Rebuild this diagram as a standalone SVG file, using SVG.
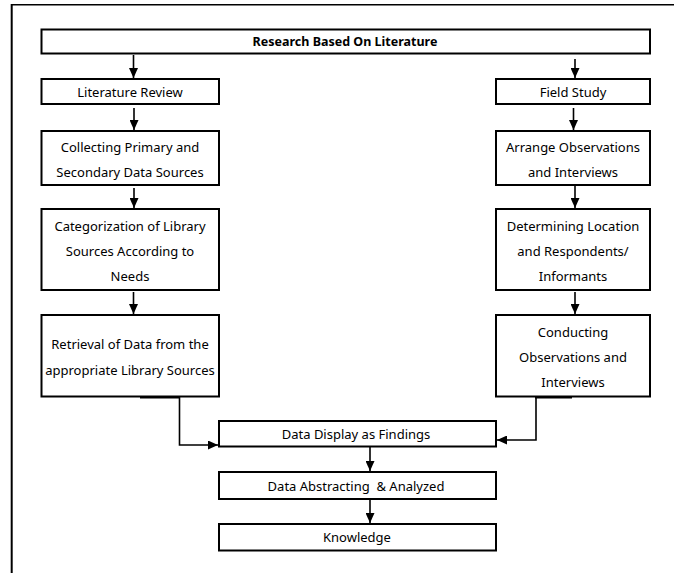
<svg xmlns="http://www.w3.org/2000/svg" width="674" height="573" viewBox="0 0 674 573">
<style>
.box{fill:#fff;stroke:#000;stroke-width:2}
.t{font-family:"Noto Sans","Liberation Sans",sans-serif;font-size:13px;fill:#000;text-anchor:middle;dominant-baseline:central}
.b{font-weight:bold;font-size:12.5px}
.c{fill:none;stroke:#000;stroke-width:1.6}
</style>
<defs>
<marker id="ah" markerUnits="userSpaceOnUse" markerWidth="10" markerHeight="9" refX="10" refY="4.5" orient="auto">
<path d="M0,0 L10,4.5 L0,9 Z" fill="#000"/>
</marker>
</defs>
<rect width="674" height="573" fill="#fff"/>
<g id="frame">
<line x1="11.5" y1="4.7" x2="674" y2="4.7" stroke="#000" stroke-width="1.5"/>
<line x1="11.7" y1="4" x2="11.7" y2="573" stroke="#000" stroke-width="2"/>
</g>
<g id="connectors">
<line class="c" x1="133.5" y1="55" x2="133.5" y2="78" marker-end="url(#ah)"/>
<line class="c" x1="575" y1="59" x2="575" y2="78" marker-end="url(#ah)"/>
<line class="c" x1="134" y1="108" x2="134" y2="130" marker-end="url(#ah)"/>
<line class="c" x1="573.5" y1="108" x2="573.5" y2="130" marker-end="url(#ah)"/>
<line class="c" x1="134" y1="188" x2="134" y2="208" marker-end="url(#ah)"/>
<line class="c" x1="575" y1="186" x2="575" y2="208" marker-end="url(#ah)"/>
<line class="c" x1="133.5" y1="292" x2="133.5" y2="314" marker-end="url(#ah)"/>
<line class="c" x1="575" y1="292" x2="575" y2="314" marker-end="url(#ah)"/>
<line x1="140" y1="397" x2="180" y2="397" stroke="#000" stroke-width="3"/>
<line x1="535" y1="397" x2="572" y2="397" stroke="#000" stroke-width="3"/>
<path class="c" d="M179.5,397 V445 H218" marker-end="url(#ah)"/>
<path class="c" d="M536,397 V440 H497" marker-end="url(#ah)"/>
<line class="c" x1="370" y1="447" x2="370" y2="471" marker-end="url(#ah)"/>
<line class="c" x1="370" y1="500" x2="370" y2="523" marker-end="url(#ah)"/>
</g>
<g id="n-title"><rect class="box" x="41.5" y="29.5" width="608.5" height="24"/><text class="t b" x="345" y="41.5">Research Based On Literature</text></g>
<g id="n-lit"><rect class="box" x="41.5" y="79" width="177.5" height="25"/><text class="t" x="130" y="91.5">Literature Review</text></g>
<g id="n-field"><rect class="box" x="496" y="79" width="154" height="25"/><text class="t" x="573" y="91.5">Field Study</text></g>
<g id="n-collect"><rect class="box" x="41.5" y="131" width="177.5" height="54"/><text class="t" x="130" y="147.3">Collecting Primary and</text><text class="t" x="130" y="172.3">Secondary Data Sources</text></g>
<g id="n-arrange"><rect class="box" x="496" y="131" width="154" height="54"/><text class="t" x="573" y="147.3">Arrange Observations</text><text class="t" x="573" y="172.3">and Interviews</text></g>
<g id="n-categ"><rect class="box" x="41.5" y="209" width="177.5" height="81"/><text class="t" x="130" y="226">Categorization of Library</text><text class="t" x="130" y="251">Sources According to</text><text class="t" x="130" y="276">Needs</text></g>
<g id="n-determ"><rect class="box" x="496" y="209" width="154" height="81"/><text class="t" x="573" y="226">Determining Location</text><text class="t" x="573" y="251">and Respondents/</text><text class="t" x="573" y="276">Informants</text></g>
<g id="n-retrieval"><rect class="box" x="41.5" y="315" width="177.5" height="81.5"/><text class="t" x="130" y="344.3">Retrieval of Data from the</text><text class="t" x="130" y="370">appropriate Library Sources</text></g>
<g id="n-conduct"><rect class="box" x="496" y="315" width="154" height="81.5"/><text class="t" x="573" y="331.7">Conducting</text><text class="t" x="573" y="356.5">Observations and</text><text class="t" x="573" y="381.7">Interviews</text></g>
<g id="n-display"><rect class="box" x="219" y="421" width="277" height="25.5"/><text class="t" x="356" y="433.5">Data Display as Findings</text></g>
<g id="n-abstract"><rect class="box" x="219" y="472" width="277" height="27"/><text class="t" x="356" y="485.5" xml:space="preserve">Data Abstracting  &amp; Analyzed</text></g>
<g id="n-knowledge"><rect class="box" x="219" y="524" width="277" height="26.5"/><text class="t" x="357" y="537">Knowledge</text></g>
</svg>
